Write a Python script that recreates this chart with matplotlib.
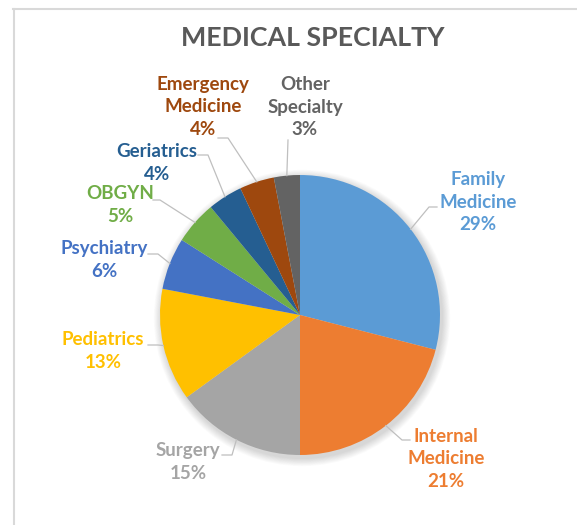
import numpy as np
import matplotlib
matplotlib.use("Agg")
import matplotlib.pyplot as plt
from matplotlib.patches import Circle

# data
specialties = ["Family\nMedicine", "Internal\nMedicine", "Surgery", "Pediatrics",
               "Psychiatry", "OBGYN", "Geriatrics", "Emergency\nMedicine",
               "Other\nSpecialty"]
shares = [29, 21, 15, 13, 6, 5, 4, 4, 3]
colors = ["#5B9BD5", "#ED7D31", "#A5A5A5", "#FFC000", "#4472C4",
          "#70AD47", "#255E91", "#9E480E", "#636363"]

W, H = 577, 525
CX, CY, R = 300, 315, 140

# label layout in pixel coords: text centre, leader elbow, leader end
label_xy = [(478, 202), (446, 459), (188, 462), (103, 351), (104, 260),
            (120, 205), (157, 163), (203, 107), (305, 107)]
elbows = [(429, 207), (402, 440), (232, 455), (158, 345), (158, 254),
          (160, 200), (208, 155), (228, 138), (288, 140)]
ends = [437, 410, 222, 148, 148, 153, 198, 218, 288]

plt.rcParams["font.family"] = ["Lato", "DejaVu Sans"]

fig = plt.figure(figsize=(W / 100, H / 100), dpi=100)
ax = fig.add_axes([0, 0, 1, 1])
ax.set_xlim(0, W)
ax.set_ylim(0, H)
ax.set_aspect("equal")
ax.axis("off")


def fy(py):
    return H - py


# frame (only top and left visible)
ax.plot([13, W], [fy(8.5), fy(8.5)], color="#D9D9D9", lw=1.5, zorder=1)
ax.plot([13.5, 13.5], [fy(8.5), 0], color="#D9D9D9", lw=1.5, zorder=1)

# soft shadow
for i in range(10):
    ax.add_patch(Circle((CX + 2, fy(CY) - 3), R + 1 + i * 0.8,
                        color="black", alpha=0.014, lw=0, zorder=2))

wedges, _ = ax.pie(shares, colors=colors, startangle=90, counterclock=False,
                   center=(CX, fy(CY)), radius=R,
                   wedgeprops=dict(linewidth=0))
for w in wedges:
    w.set_zorder(3)
ax.set_xlim(0, W)
ax.set_ylim(0, H)

# labels and leader lines
cum = np.cumsum([0] + shares)
for i, name in enumerate(specialties):
    mid = (cum[i] + cum[i + 1]) / 2 / sum(shares) * 360
    axp = CX + R * np.sin(np.radians(mid))
    ayp = CY - R * np.cos(np.radians(mid))
    ex, ey = elbows[i]
    ax.plot([axp, ex, ends[i]], [fy(ayp), fy(ey), fy(ey)],
            color="#BFBFBF", lw=0.9, zorder=4)
    lx, ly = label_xy[i]
    ax.text(lx, fy(ly), f"{name}\n{shares[i]}%", ha="center", va="center",
            color=colors[i], fontsize=13.5, fontweight="bold",
            linespacing=1.42, zorder=5)

ax.text(313, fy(38), "MEDICAL SPECIALTY", ha="center", va="center",
        color="#595959", fontsize=19.3, fontweight="bold")

fig.savefig("out.png", dpi=100)
